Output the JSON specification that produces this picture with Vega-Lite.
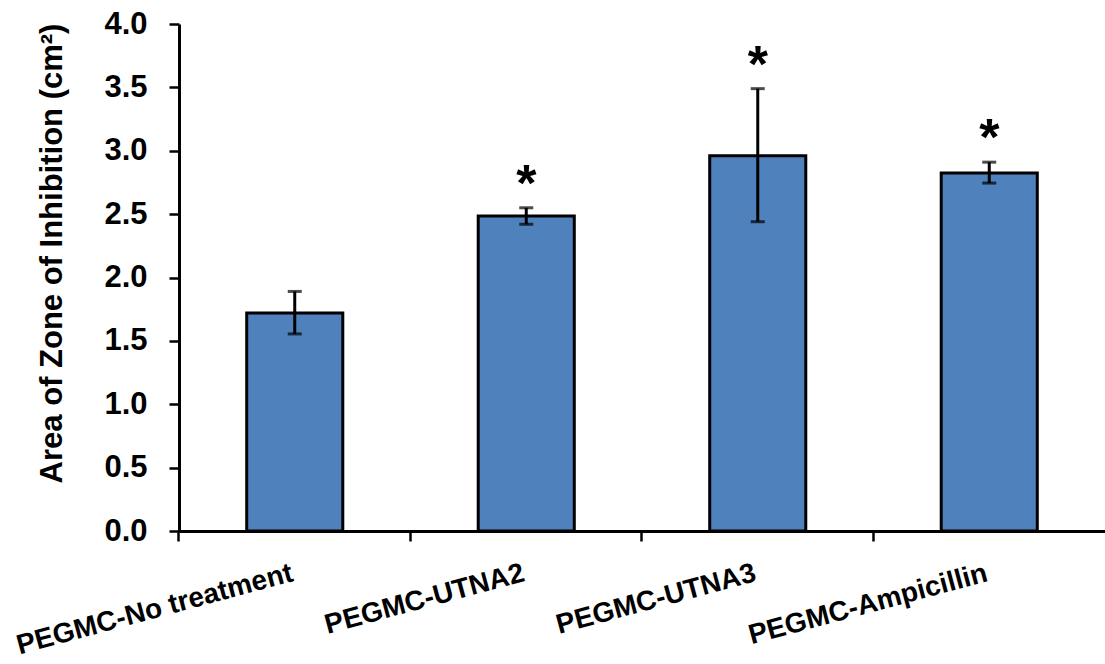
{
  "$schema": "https://vega.github.io/schema/vega-lite/v6.json",
  "width": 926,
  "height": 507,
  "autosize": {"type": "none"},
  "padding": {"left": 179, "top": 24, "right": 0, "bottom": 133},
  "background": "white",
  "config": {
    "view": {"stroke": null},
    "font": "Liberation Sans",
    "axis": {"labelFont": "Liberation Sans", "titleFont": "Liberation Sans", "labelColor": "black", "titleColor": "black", "domainColor": "black", "tickColor": "black"}
  },
  "data": {
    "values": [
      {"treatment": "PEGMC-No treatment", "mean": 1.72, "lo": 1.555, "hi": 1.89, "sig": ""},
      {"treatment": "PEGMC-UTNA2", "mean": 2.485, "lo": 2.42, "hi": 2.55, "sig": "*"},
      {"treatment": "PEGMC-UTNA3", "mean": 2.96, "lo": 2.44, "hi": 3.49, "sig": "*"},
      {"treatment": "PEGMC-Ampicillin", "mean": 2.825, "lo": 2.745, "hi": 2.91, "sig": "*"}
    ]
  },
  "encoding": {
    "x": {
      "field": "treatment",
      "type": "nominal",
      "sort": null,
      "scale": {"paddingInner": 0.585, "paddingOuter": 0.2925},
      "axis": {
        "title": null,
        "bandPosition": -0.706,
        "labelAngle": -15,
        "labelAlign": "right",
        "labelBaseline": "top",
        "labelOffset": -6,
        "labelPadding": 18,
        "labelLimit": 0,
        "labelFontSize": 28,
        "labelFontWeight": "bold",
        "tickSize": 10,
        "tickWidth": 2.5,
        "domainWidth": 3
      }
    }
  },
  "layer": [
    {
      "mark": {"type": "bar", "fill": "#4F81BD", "stroke": "black", "strokeWidth": 3},
      "encoding": {
        "y": {
          "field": "mean",
          "type": "quantitative",
          "scale": {"domain": [0, 4], "nice": false},
          "axis": {
            "title": "Area of Zone of Inhibition (cm²)",
            "values": [0, 0.5, 1, 1.5, 2, 2.5, 3, 3.5, 4],
            "format": ".1f",
            "grid": false,
            "labelFontSize": 31,
            "labelFontWeight": "bold",
            "labelPadding": 22,
            "tickSize": 10,
            "tickWidth": 2.5,
            "domainWidth": 3,
            "titleFontSize": 31,
            "titleFontWeight": "bold",
            "titleAngle": -90,
            "titleX": -127,
            "titleY": 229,
            "titleAlign": "center",
            "titleBaseline": "middle"
          }
        }
      }
    },
    {
      "mark": {"type": "rule", "color": "black", "strokeWidth": 3},
      "encoding": {
        "y": {"field": "lo", "type": "quantitative"},
        "y2": {"field": "hi"}
      }
    },
    {
      "mark": {"type": "tick", "color": "black", "size": 14, "thickness": 3},
      "encoding": {"y": {"field": "lo", "type": "quantitative"}}
    },
    {
      "mark": {"type": "tick", "color": "black", "size": 14, "thickness": 3},
      "encoding": {"y": {"field": "hi", "type": "quantitative"}}
    },
    {
      "mark": {"type": "text", "fontSize": 52, "fontWeight": "bold", "color": "black", "baseline": "alphabetic", "dy": -7},
      "encoding": {
        "y": {"field": "hi", "type": "quantitative"},
        "text": {"field": "sig"}
      }
    }
  ]
}
